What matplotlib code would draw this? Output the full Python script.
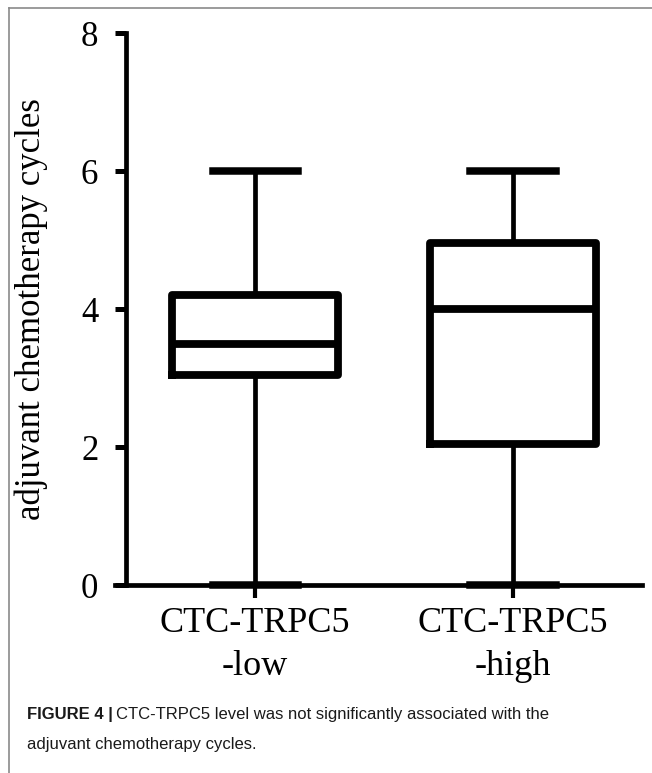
import matplotlib
matplotlib.use("Agg")
import matplotlib.pyplot as plt
from matplotlib.lines import Line2D

# values
groups = ["CTC-TRPC5\n-low", "CTC-TRPC5\n-high"]
whisker_low = [0.0, 0.0]
q1 = [3.05, 2.05]
median = [3.5, 4.0]
q3 = [4.2, 4.95]
whisker_high = [6.0, 6.0]
yticks = [0, 2, 4, 6, 8]

W, H = 652, 773
fig = plt.figure(figsize=(W / 100, H / 100), dpi=100)
serif = ["Liberation Serif", "DejaVu Serif"]

# axes box in pixels: left 115, right 642, top 33, bottom 585
ax = fig.add_axes([115 / W, (H - 585) / H, 527 / W, 552 / H])

stats = []
for i in range(len(groups)):
    stats.append(dict(whislo=whisker_low[i], q1=q1[i], med=median[i],
                      q3=q3[i], whishi=whisker_high[i], fliers=[]))

positions = list(range(1, len(groups) + 1))
bp = ax.bxp(stats, positions=positions, widths=0.643, capwidths=0.33,
            showfliers=False, patch_artist=False)
for b in bp["boxes"]:
    b.set(color="black", linewidth=5.6, clip_on=False)
for m in bp["medians"]:
    m.set(color="black", linewidth=5.6, clip_on=False)
for w in bp["whiskers"]:
    w.set(color="black", linewidth=3.4, clip_on=False)
for c in bp["caps"]:
    c.set(color="black", linewidth=5.4, clip_on=False)

ax.set_xlim(0.457, 2.5)
ax.set_ylim(0, 8)
ax.set_yticks(yticks)
ax.set_xticks(positions)
ax.set_xticklabels(groups)

for s in ["top", "right"]:
    ax.spines[s].set_visible(False)
ax.spines["left"].set_position(("data", 0.5))
ax.spines["left"].set_bounds(0, 8)
for s in ["left", "bottom"]:
    ax.spines[s].set_linewidth(3.4)
    ax.spines[s].set_zorder(1)

ax.tick_params(axis="y", length=8, width=3.6, pad=12, direction="out")
ax.tick_params(axis="x", length=9, width=3.0, pad=7, direction="out")
for lab in ax.get_yticklabels():
    lab.set_fontfamily(serif)
    lab.set_fontsize(25)
for lab in ax.get_xticklabels():
    lab.set_fontfamily(serif)
    lab.set_fontsize(26)
    lab.set_linespacing(1.38)

ax.set_ylabel("adjuvant chemotherapy cycles", family=serif, fontsize=25)
ax.yaxis.set_label_coords(-0.127, 0.5)

# frame around the figure panel
frame = "#8a8a8a"
fig.add_artist(Line2D([8.5 / W, 8.5 / W], [0, 1 - 8 / H], transform=fig.transFigure,
                      color=frame, linewidth=1.2))
fig.add_artist(Line2D([8.5 / W, 1], [1 - 8 / H, 1 - 8 / H], transform=fig.transFigure,
                      color=frame, linewidth=1.2))

# caption
sans = ["Liberation Sans Narrow", "Liberation Sans", "DejaVu Sans"]
cap_size = 12
t1 = fig.text(27 / W, 1 - 714 / H, "FIGURE 4 |", family=sans, fontsize=cap_size,
              fontweight="bold", va="center", color="#1a1a1a")
fig.canvas.draw()
bb = t1.get_window_extent(fig.canvas.get_renderer())
fig.text((bb.x1 + 3) / W, 1 - 714 / H,
         "CTC-TRPC5 level was not significantly associated with the",
         family=sans, fontsize=cap_size, va="center", color="#1a1a1a")
fig.text(27 / W, 1 - 745 / H, "adjuvant chemotherapy cycles.",
         family=sans, fontsize=cap_size, va="center", color="#1a1a1a")

fig.savefig("out.png", dpi=100)
